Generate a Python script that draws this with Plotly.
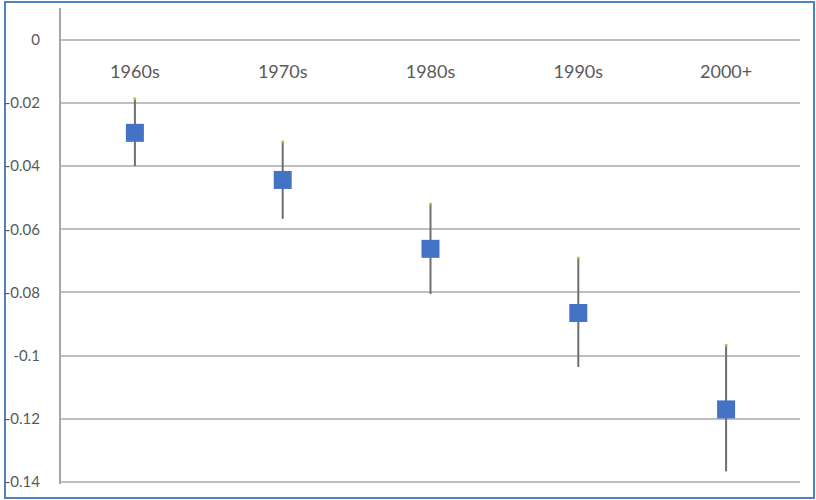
import plotly.graph_objects as go

categories = ["1960s", "1970s", "1980s", "1990s", "2000+"]
estimate = [-0.0295, -0.0444, -0.0662, -0.0865, -0.1170]
upper = [-0.0187, -0.0323, -0.0520, -0.0691, -0.0967]
lower = [-0.0400, -0.0567, -0.0805, -0.1036, -0.1366]
tick_vals = [0, -0.02, -0.04, -0.06, -0.08, -0.1, -0.12, -0.14]
tick_text = ["0", "-0.02", "-0.04", "-0.06", "-0.08", "-0.1", "-0.12", "-0.14"]

err_plus = [u - e for u, e in zip(upper, estimate)]
err_minus = [e - l for e, l in zip(estimate, lower)]

fig = go.Figure()
fig.add_trace(go.Scatter(
    x=categories, y=estimate, mode="markers",
    marker=dict(symbol="square", size=18, color="#4472C4"),
    error_y=dict(type="data", symmetric=False, array=err_plus, arrayminus=err_minus,
                 width=0, thickness=2, color="#6E6E6E"),
    showlegend=False, cliponaxis=False,
))
fig.add_trace(go.Scatter(
    x=categories, y=upper, mode="markers",
    marker=dict(symbol="circle", size=3, color="#92D050"),
    showlegend=False, cliponaxis=False,
))

y_min, y_max = -0.1406, 0.01
L, R, T, B = 61, 16, 8, 16
W, H = 816, 500
pw, ph = W - L - R, H - T - B
zero_pos = (y_max - 0) / (y_max - y_min)  # fraction from top
fig.update_layout(
    width=W, height=H,
    margin=dict(l=L, r=R, t=T, b=B),
    paper_bgcolor="white", plot_bgcolor="white",
    font=dict(family="Lato, 'Open Sans', sans-serif", color="#595959", size=15),
    xaxis=dict(
        type="category", range=[-0.5, 4.5], showgrid=False, zeroline=False,
        showline=False, anchor="free", position=1 - zero_pos, side="bottom",
        ticks="", ticklabelstandoff=19, tickfont=dict(size=18, color="#595959"),
        automargin=False,
    ),
    yaxis=dict(
        range=[y_min, y_max], tickvals=tick_vals, ticktext=tick_text,
        showgrid=True, gridcolor="#BFBFBF", gridwidth=2, zeroline=False,
        showline=True, linecolor="#A6A6A6", linewidth=2, ticks="",
        ticklabelstandoff=16, tickfont=dict(size=15, color="#595959"),
        automargin=False,
    ),
    shapes=[dict(
        type="rect", xref="paper", yref="paper",
        x0=(5 - L) / pw, x1=(814 - L) / pw,
        y0=(H - B - 498) / ph, y1=(H - B - 2) / ph,
        line=dict(color="#4F81BD", width=2), fillcolor="rgba(0,0,0,0)", layer="below",
    )],
)

fig.write_html(
    "out.html",
    config={"displayModeBar": False},
    post_script="document.body.style.margin='0';document.body.style.overflow='hidden';",
)
